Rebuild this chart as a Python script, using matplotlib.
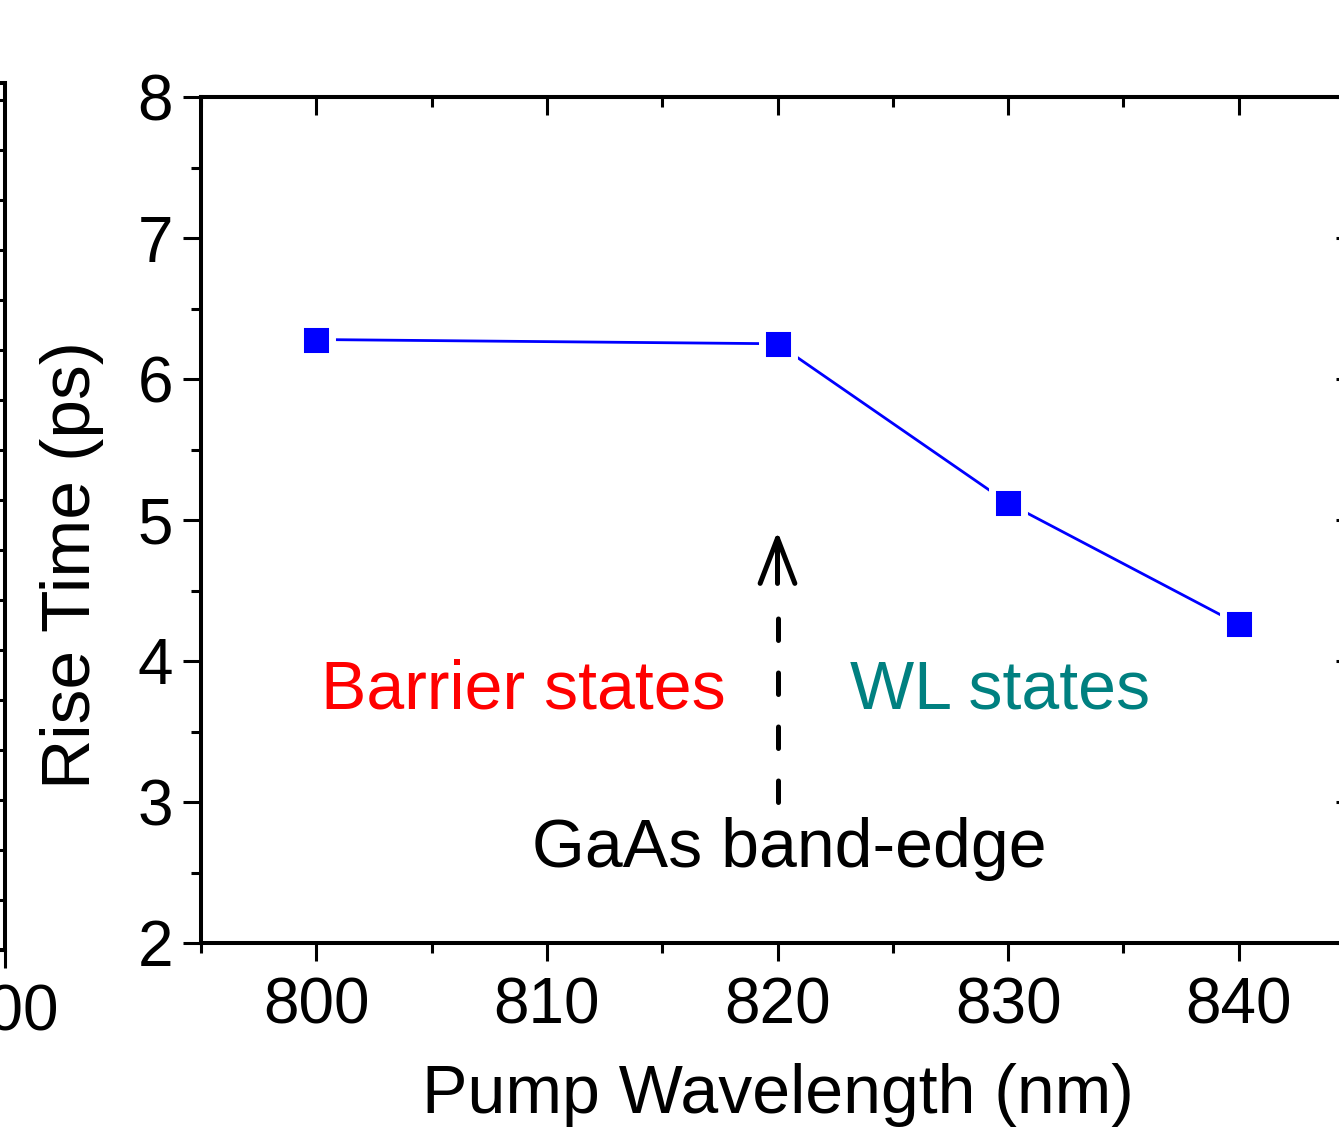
import numpy as np
import matplotlib
matplotlib.use("Agg")
import matplotlib.pyplot as plt
from matplotlib.ticker import MultipleLocator

plt.rcParams['font.family'] = ['Liberation Sans', 'DejaVu Sans']

# data
wavelength = [800, 820, 830, 840]
rise_time = [6.28, 6.25, 5.12, 4.26]

W, H = 1339, 1128
fig = plt.figure(figsize=(W / 100, H / 100), dpi=100)

spine_lw = 2.9
tick_w = 2.2
tick_fs = 46

# main panel (right spine sits just past the figure edge)
ax = fig.add_axes([201 / W, 185 / H, 1153 / W, 846 / H])
ax.plot(wavelength, rise_time, color='blue', lw=2, zorder=2)
ax.plot(wavelength, rise_time, ls='none', marker='s', ms=23.5, mfc='blue',
        mec='white', mew=5, zorder=3)

ax.set_xlim(795, 845)
ax.set_ylim(2, 8)
ax.xaxis.set_major_locator(MultipleLocator(10))
ax.xaxis.set_minor_locator(MultipleLocator(5))
ax.yaxis.set_major_locator(MultipleLocator(1))
ax.yaxis.set_minor_locator(MultipleLocator(0.5))

for s in ax.spines.values():
    s.set_linewidth(spine_lw)

ax.tick_params(which='both', width=tick_w, labelsize=tick_fs)
ax.tick_params(which='major', length=13)
ax.tick_params(which='minor', length=7)
ax.tick_params(axis='x', which='both', bottom=True, top=False, direction='out', pad=11)
ax.tick_params(axis='y', which='both', left=True, right=False, direction='out', pad=7)

# inward ticks on top and right
axt = ax.secondary_xaxis('top')
axt.xaxis.set_major_locator(MultipleLocator(10))
axt.xaxis.set_minor_locator(MultipleLocator(5))
axt.tick_params(which='both', direction='in', width=tick_w, labeltop=False)
axt.tick_params(which='major', length=13)
axt.tick_params(which='minor', length=7)
axt.spines['top'].set_linewidth(spine_lw)
axr = ax.secondary_yaxis('right')
axr.yaxis.set_major_locator(MultipleLocator(1))
axr.yaxis.set_minor_locator(MultipleLocator(0.5))
axr.tick_params(which='both', direction='in', width=tick_w, labelright=False)
axr.tick_params(which='major', length=13)
axr.tick_params(which='minor', length=7)

ax.set_xlabel('Pump Wavelength (nm)', fontsize=49)
ax.set_ylabel('Rise Time (ps)', fontsize=50)
ax.xaxis.set_label_coords(0.5, -0.142)
ax.yaxis.set_label_coords(-0.084, 0.447)

ax.text(809.0, 3.79, 'Barrier states', color='#ff0000', fontsize=49,
        ha='center', va='center')
ax.text(829.65, 3.79, 'WL states', color='#008080', fontsize=49,
        ha='center', va='center')
ax.text(820.5, 2.67, 'GaAs band-edge', color='black', fontsize=49,
        ha='center', va='center')

# dashed arrow marking the band edge
ax.plot([820, 820], [3.0, 4.52], color='black', lw=3.6,
        dashes=(4.3, 6.5), dash_capstyle='round')
ax.annotate('', xy=(820, 4.92), xytext=(820, 4.55),
            arrowprops=dict(arrowstyle='->,head_length=0.65,head_width=0.25',
                            mutation_scale=50, lw=3.6, color='black',
                            shrinkA=0, shrinkB=0, capstyle='round',
                            joinstyle='round'))

# neighbouring panel, cut by the left edge
axl = fig.add_axes([-400 / W, 178 / H, 405 / W, 867 / H])
axl.set_xlim(500, 900)
axl.set_ylim(0, 17.34)
axl.set_xticks([900])
axl.set_xticklabels(['900'])
axl.yaxis.set_major_locator(MultipleLocator(10))
axl.yaxis.set_minor_locator(MultipleLocator(1))
axl.yaxis.tick_right()
axl.tick_params(axis='y', which='both', direction='in', width=tick_w, labelright=False)
axl.tick_params(axis='y', which='major', length=11)
axl.tick_params(axis='y', which='minor', length=5)
axl.tick_params(axis='x', direction='out', width=tick_w, length=13,
                labelsize=tick_fs, pad=11)
for s in axl.spines.values():
    s.set_linewidth(spine_lw)

fig.savefig('out.png', dpi=100)
